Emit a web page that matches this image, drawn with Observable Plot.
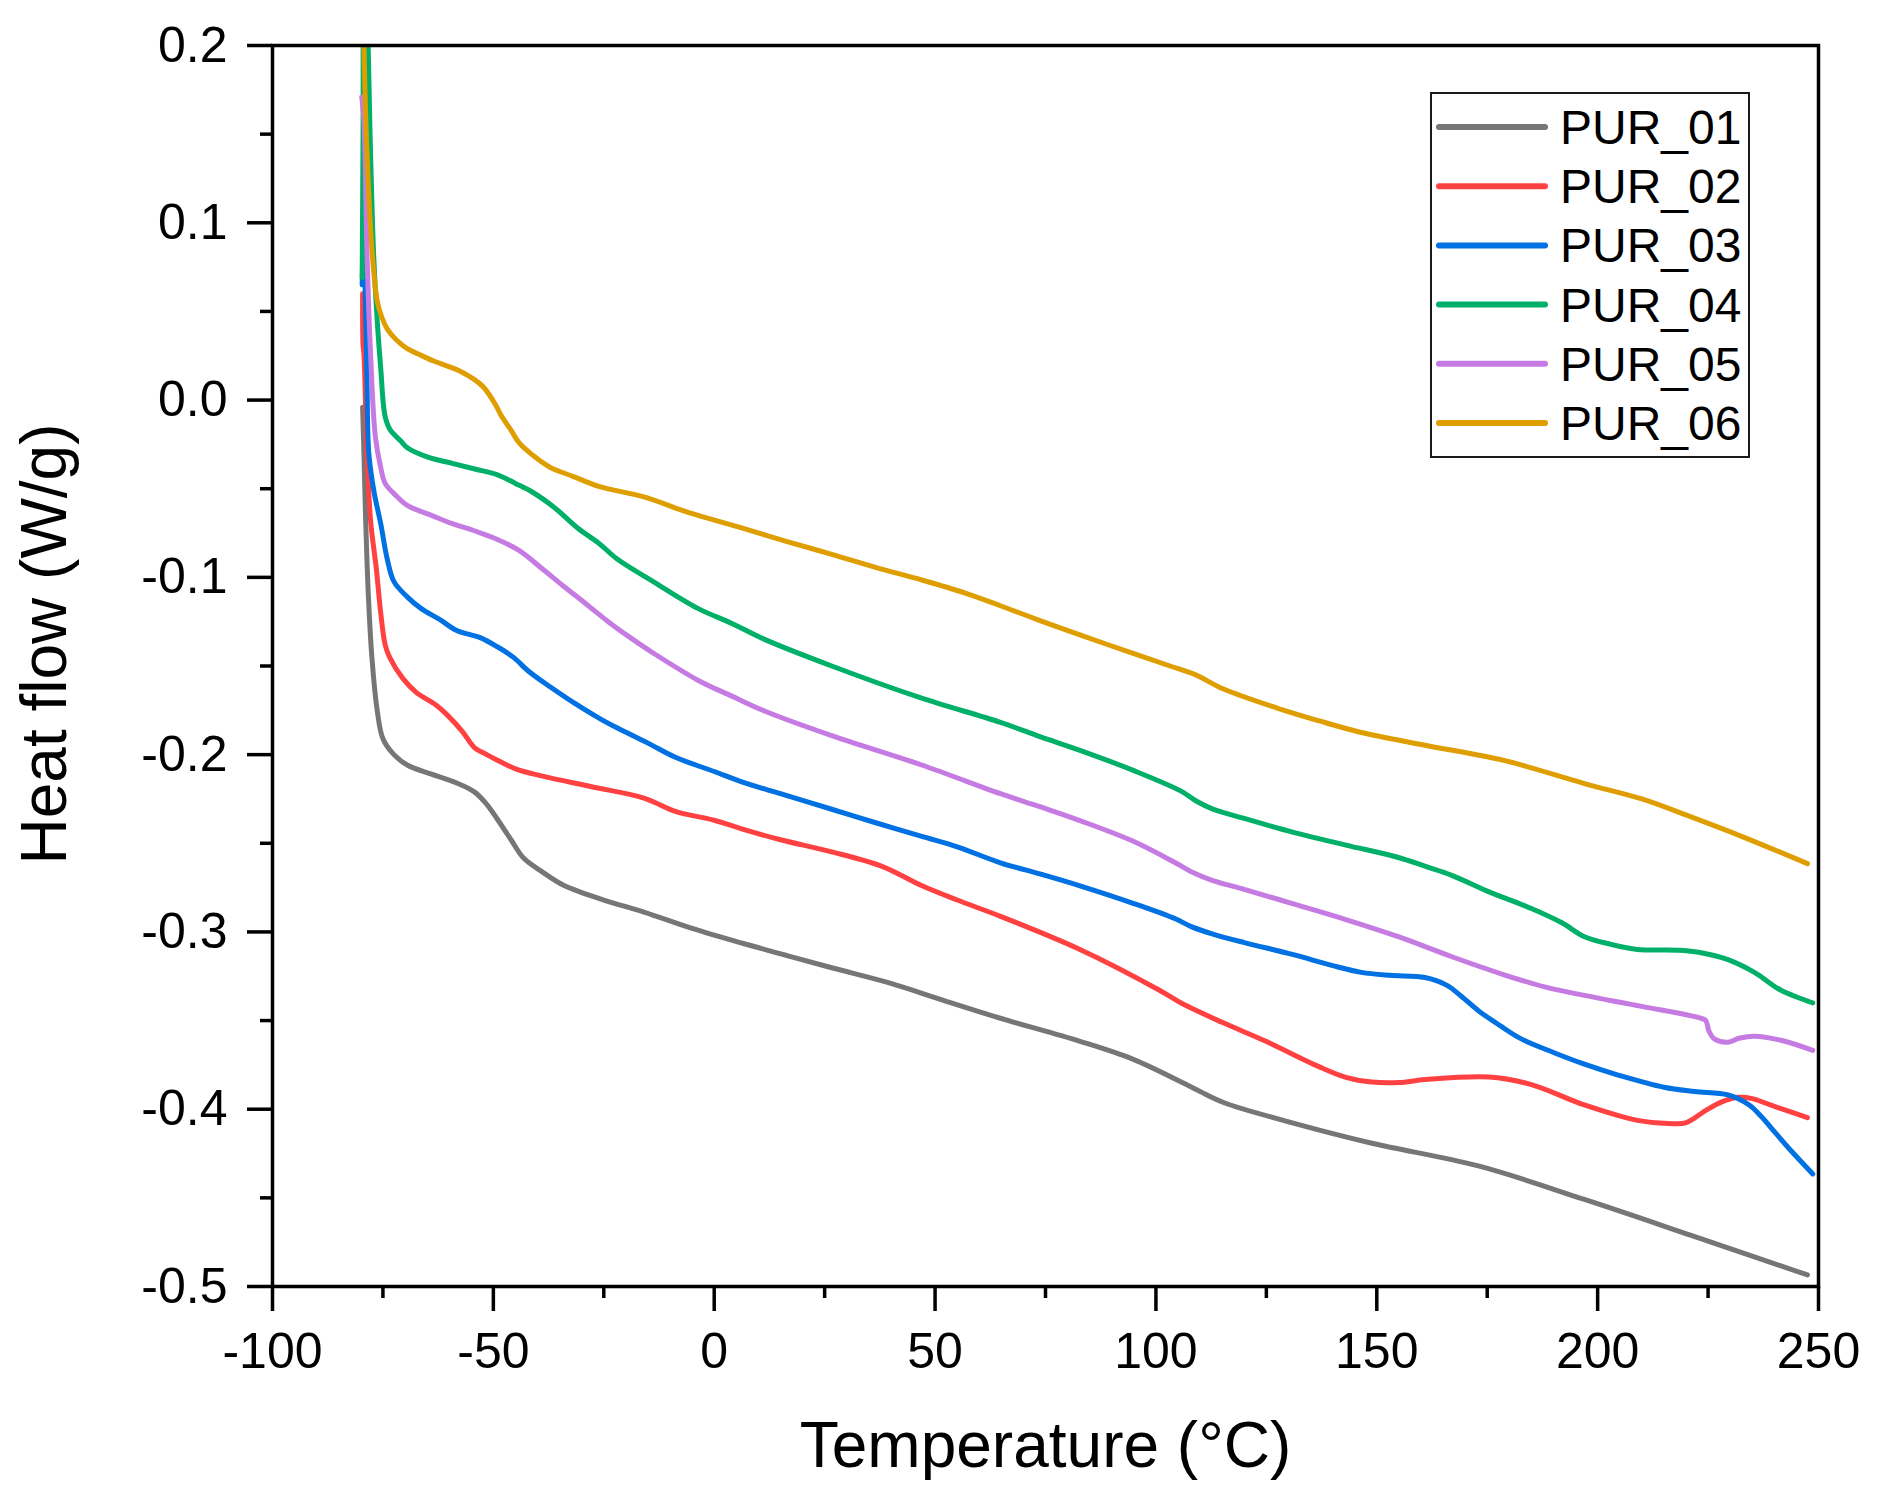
<!DOCTYPE html>
<html>
<head>
<meta charset="utf-8">
<script src="https://cdn.jsdelivr.net/npm/d3@7"></script>
<script src="https://cdn.jsdelivr.net/npm/@observablehq/plot@0.6"></script>
<style>
  html, body { margin: 0; padding: 0; background: #fff; }
  #chart svg { display: block; }
</style>
</head>
<body>
<div id="chart"></div>
<script>
// ---------- data ----------
const seriesNames = ["PUR_01", "PUR_02", "PUR_03", "PUR_04", "PUR_05", "PUR_06"];
const seriesColors = ["#767676", "#FF4141", "#0071E2", "#00AF68", "#C57BE2", "#DF9E00"];

const pur01 = [[-79.6,-0.004],[-79.3,-0.03],[-78.9,-0.068],[-78.3,-0.11],[-77.5,-0.145],[-76.3,-0.175],[-75,-0.191],[-72.5,-0.2],[-69.4,-0.206],[-64,-0.211],[-58.3,-0.216],[-54.3,-0.221],[-51.5,-0.228],[-49.2,-0.236],[-46,-0.248],[-43.1,-0.2585],[-39,-0.266],[-34.1,-0.2737],[-25,-0.282],[-15.9,-0.2888],[-5,-0.298],[6.4,-0.3064],[16,-0.313],[26.6,-0.3202],[40,-0.329],[51.9,-0.3386],[64.8,-0.3487],[82.8,-0.3617],[95,-0.372],[106.9,-0.3861],[110,-0.390],[115.3,-0.3962],[130.9,-0.4077],[148.9,-0.4192],[173,-0.432],[197,-0.4509],[221,-0.471],[247.5,-0.4935]];

const pur02 = [[-79.6,0.06],[-79.5,0.031],[-79.3,0.026],[-78.6,-0.03],[-77.8,-0.068],[-76.5,-0.095],[-75.5,-0.12],[-74.5,-0.138],[-73.5,-0.145],[-70.5,-0.157],[-67.4,-0.165],[-63,-0.172],[-60.3,-0.178],[-57,-0.187],[-54.3,-0.196],[-51.5,-0.2],[-49.2,-0.203],[-45,-0.208],[-39.1,-0.212],[-28,-0.218],[-15.9,-0.2245],[-8.8,-0.232],[0,-0.237],[6.4,-0.242],[15,-0.248],[26.6,-0.2548],[38,-0.263],[46.8,-0.2737],[55,-0.282],[64.8,-0.2912],[82.8,-0.3099],[100.8,-0.3329],[105.7,-0.3401],[115,-0.351],[124.9,-0.3617],[136.9,-0.376],[143,-0.382],[148.9,-0.3847],[155,-0.385],[161,-0.3833],[175.4,-0.3818],[185,-0.3861],[197,-0.3976],[209,-0.4063],[216,-0.408],[219.9,-0.4077],[224.6,-0.4005],[228,-0.396],[231.8,-0.3933],[235,-0.394],[239.1,-0.3976],[247.5,-0.4048]];

const pur03 = [[-79.7,0.065],[-79.4,0.09],[-79,0.06],[-78.6,0.01],[-78.2,-0.03],[-77,-0.052],[-75.5,-0.0697],[-74,-0.09],[-72.5,-0.1024],[-69.5,-0.111],[-66.4,-0.1175],[-62,-0.124],[-58.3,-0.13],[-53,-0.134],[-49.2,-0.139],[-45.5,-0.145],[-42.1,-0.1528],[-37,-0.162],[-32,-0.1704],[-26,-0.1795],[-21.9,-0.185],[-15,-0.1935],[-8.8,-0.2015],[0,-0.2095],[6.4,-0.2155],[15,-0.222],[26.6,-0.2308],[36,-0.238],[46.8,-0.246],[55,-0.252],[64.8,-0.261],[73.9,-0.2674],[82.8,-0.274],[95,-0.284],[104.4,-0.2926],[108,-0.297],[112.9,-0.3012],[120,-0.306],[130.9,-0.3127],[140,-0.319],[146.5,-0.3228],[153,-0.3245],[160.9,-0.3257],[165.8,-0.33],[169,-0.336],[173,-0.3444],[178,-0.353],[182.6,-0.3602],[190,-0.368],[197,-0.3746],[205,-0.381],[215,-0.3876],[222,-0.39],[229.5,-0.3919],[234.3,-0.3976],[237,-0.404],[240.3,-0.4135],[244,-0.424],[248.7,-0.4365]];

const pur04 = [[-79.7,0.069],[-79.5,0.15],[-79.3,0.25],[-78.6,0.22],[-77.8,0.139],[-77.1,0.082],[-76.3,0.045],[-75.5,0.018],[-74.5,-0.0093],[-73.3,-0.017],[-71,-0.023],[-69.4,-0.027],[-65,-0.032],[-59.3,-0.0357],[-54,-0.039],[-49.2,-0.042],[-45,-0.047],[-41.1,-0.052],[-36,-0.061],[-31,-0.072],[-26,-0.081],[-21.9,-0.0898],[-13.8,-0.1024],[-3.7,-0.1175],[4,-0.126],[11.4,-0.135],[26.6,-0.15],[46.8,-0.168],[64.8,-0.1818],[73.9,-0.19],[82.8,-0.1976],[95,-0.209],[105.7,-0.2206],[109,-0.226],[112.9,-0.2307],[120,-0.236],[130.9,-0.2437],[143,-0.251],[154.9,-0.258],[161,-0.263],[167,-0.2681],[175,-0.277],[185,-0.2868],[192,-0.295],[197,-0.3027],[203,-0.307],[209,-0.3099],[218.6,-0.3104],[224,-0.312],[229.5,-0.3156],[235.5,-0.3228],[241.5,-0.3329],[248.7,-0.34]];

const pur05 = [[-79.8,0.171],[-79.3,0.158],[-78.6,0.082],[-77.8,0.026],[-76.7,-0.021],[-75.5,-0.038],[-74.5,-0.047],[-72,-0.054],[-69.4,-0.0596],[-64,-0.065],[-59.3,-0.0697],[-54,-0.074],[-49.2,-0.0785],[-44.2,-0.0848],[-39,-0.095],[-34.1,-0.105],[-29,-0.115],[-24,-0.125],[-19,-0.134],[-13.8,-0.1427],[-3.7,-0.158],[4,-0.167],[11.4,-0.1754],[26.6,-0.1893],[46.8,-0.2057],[64.8,-0.222],[73.9,-0.2295],[82.8,-0.2372],[95,-0.249],[104.4,-0.261],[108,-0.266],[112.9,-0.271],[120,-0.276],[130.9,-0.284],[143,-0.293],[154.9,-0.3027],[167,-0.314],[179,-0.3243],[188,-0.331],[197,-0.3358],[210,-0.342],[223.4,-0.3487],[224.5,-0.35],[225.2,-0.356],[226.5,-0.3605],[229.5,-0.3622],[232,-0.36],[235.5,-0.3588],[241.5,-0.3611],[248.7,-0.3668]];

const pur06 = [[-79.6,0.27],[-79.3,0.2],[-78.6,0.139],[-77.4,0.082],[-76.3,0.056],[-75.3,0.047],[-74,0.04],[-72,0.034],[-69.5,0.029],[-67,0.026],[-63.5,0.022],[-57.3,0.016],[-52.5,0.008],[-49.2,-0.004],[-48.4,-0.008],[-46,-0.017],[-44.2,-0.024],[-40.1,-0.033],[-37.1,-0.038],[-32,-0.043],[-25.7,-0.049],[-15.9,-0.0546],[-6.9,-0.0625],[-3.7,-0.065],[6,-0.072],[16.5,-0.0798],[26.6,-0.087],[36.7,-0.0945],[47,-0.1015],[57,-0.109],[64.8,-0.116],[73.9,-0.1245],[82.8,-0.1325],[95,-0.143],[103.2,-0.15],[109,-0.155],[115.3,-0.163],[128.5,-0.1746],[137,-0.181],[146.5,-0.1875],[160.9,-0.1947],[179,-0.2034],[197,-0.2163],[210,-0.225],[221,-0.235],[233,-0.2465],[247.5,-0.2615]];

const seriesValues = [pur01, pur02, pur03, pur04, pur05, pur06];

const xTicks = [-100, -50, 0, 50, 100, 150, 200, 250];
const xMinorTicks = [-75, -25, 25, 75, 125, 175, 225];
const yTicks = [-0.5, -0.4, -0.3, -0.2, -0.1, 0.0, 0.1, 0.2];
const yMinorTicks = [-0.45, -0.35, -0.25, -0.15, -0.05, 0.05, 0.15];

const xLabel = "Temperature (°C)";
const yLabel = "Heat flow (W/g)";

// ---------- chart ----------
const FONT = "'Liberation Sans', Arial, Helvetica, sans-serif";
const rows = seriesNames.flatMap((name, i) =>
  seriesValues[i].map(([t, h]) => ({series: name, t, h})));

const W = 1896, H = 1504;
const M = {left: 272, right: 78, top: 45, bottom: 218};

const lineMarks = seriesNames.map(name =>
  Plot.line(rows.filter(r => r.series === name), {
    x: "t", y: "h", stroke: "series", strokeWidth: 5,
    curve: "catmull-rom", strokeLinejoin: "round", strokeLinecap: "round", clip: true
  }));

const chart = Plot.plot({
  width: W, height: H,
  marginLeft: M.left, marginRight: M.right, marginTop: M.top, marginBottom: M.bottom,
  style: {fontFamily: FONT, background: "#fff", color: "#000", overflow: "visible"},
  x: {domain: [-100, 250]},
  y: {domain: [-0.5, 0.2]},
  color: {domain: seriesNames, range: seriesColors},
  marks: [
    Plot.axisX({ticks: xMinorTicks, tickSize: 12, strokeWidth: 3.5, text: null, label: null}),
    Plot.axisX({ticks: xTicks, tickSize: 25, tickPadding: 21, strokeWidth: 3.5, fontSize: 50,
      tickFormat: d => String(d), label: null}),
    Plot.axisY({ticks: yMinorTicks, tickSize: 12, strokeWidth: 3.5, text: null, label: null}),
    Plot.axisY({ticks: yTicks, tickSize: 25, tickPadding: 20, strokeWidth: 3.5, fontSize: 50,
      tickFormat: d => d.toFixed(1), label: null}),
    ...lineMarks,
    Plot.frame({stroke: "#000", strokeWidth: 3.5}),
    Plot.text([xLabel], {text: d => d, frameAnchor: "bottom", textAnchor: "middle", dy: 180, fontSize: 64, fill: "#000"}),
    Plot.text([yLabel], {text: d => d, frameAnchor: "left", textAnchor: "middle", lineAnchor: "middle",
      rotate: -90, dx: -227, dy: -22, fontSize: 64, fill: "#000"})
  ]
});

document.getElementById("chart").appendChild(chart);

// ---------- legend (inside the frame, top-right) ----------
const LG = {x: 1431, y: 93, w: 318, h: 364, row0: 127, step: 59.2, lx1: 1439, lx2: 1545, tx: 1560, fs: 48};
const svg = d3.select(chart);
const g = svg.append("g").attr("class", "legend");
g.append("rect").attr("x", LG.x).attr("y", LG.y).attr("width", LG.w).attr("height", LG.h)
  .attr("fill", "#fff").attr("stroke", "#1a1a1a").attr("stroke-width", 2);
seriesNames.forEach((name, i) => {
  const cy = LG.row0 + i * LG.step;
  g.append("line").attr("x1", LG.lx1).attr("x2", LG.lx2).attr("y1", cy).attr("y2", cy)
    .attr("stroke", seriesColors[i]).attr("stroke-width", 6).attr("stroke-linecap", "round");
  g.append("text").attr("x", LG.tx).attr("y", cy + 17).attr("text-anchor", "start")
    .attr("font-family", FONT).attr("font-size", LG.fs).attr("fill", "#000").text(name);
});
</script>
</body>
</html>
